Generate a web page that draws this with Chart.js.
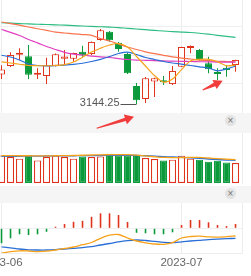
<!DOCTYPE html>
<html>
<head>
<meta charset="utf-8">
<script src="https://cdn.jsdelivr.net/npm/chart.js@4/dist/chart.umd.min.js"></script>
<style>
    html, body { margin: 0; padding: 0; background: #fff; }
    #wrap { position: relative; width: 251px; height: 276px; overflow: hidden; font-family: "Liberation Sans", Arial, sans-serif; }
    #wrap canvas { position: absolute; left: 0; }
    .band { position: absolute; left: 0; width: 251px; background: #f5f5f5; }
    .close { position: absolute; left: 225px; width: 11px; height: 11px; border-radius: 50%; background: #e3e3e3; color: #777; font-size: 10px; line-height: 11px; text-align: center; }
    #marks { position: absolute; left: 0; top: 0; }
</style>
</head>
<body>
<div id="wrap">
    <canvas id="klineChart" width="251" height="113" style="top:0"></canvas>
    <div class="band" style="top:113px;height:20px"><div class="close" style="top:2px">×</div></div>
    <canvas id="volumeChart" width="251" height="53" style="top:133px"></canvas>
    <div class="band" style="top:186px;height:17px"><div class="close" style="top:2px">×</div></div>
    <canvas id="macdChart" width="251" height="73" style="top:203px"></canvas>
    <svg id="marks" width="251" height="276"></svg>
</div>
<script>

// =====================
// DATA
// =====================

const dates = [
    "2023-06-01", "2023-06-02", "2023-06-05", "2023-06-06", "2023-06-07", "2023-06-08", "2023-06-09",
    "2023-06-12", "2023-06-13", "2023-06-14", "2023-06-15", "2023-06-16", "2023-06-19", "2023-06-20",
    "2023-06-21", "2023-06-26", "2023-06-27", "2023-06-28", "2023-06-29", "2023-06-30",
    "2023-07-03", "2023-07-04", "2023-07-05", "2023-07-06", "2023-07-07", "2023-07-10", "2023-07-11"
];

const opens  = [3196.0, 3210.7, 3230.5, 3228.0, 3195.5, 3193.0, 3211.0, 3223.5, 3223.5, 3235.8, 3231.7, 3256.3, 3271.0, 3251.6, 3232.0, 3175.6, 3152.8, 3183.5, 3183.6, 3179.0, 3209.5, 3242.5, 3238.7, 3215.4, 3197.6, 3207.5, 3212.5];
const highs  = [3212.0, 3235.0, 3242.0, 3247.5, 3207.0, 3225.0, 3232.5, 3238.7, 3234.0, 3246.3, 3253.5, 3275.5, 3272.0, 3253.0, 3234.0, 3180.9, 3191.4, 3190.0, 3193.0, 3210.7, 3244.5, 3246.5, 3240.5, 3227.0, 3206.6, 3212.5, 3221.8];
const lows   = [3188.0, 3209.0, 3221.0, 3188.0, 3188.0, 3179.0, 3210.0, 3212.5, 3218.0, 3227.0, 3230.0, 3255.0, 3253.3, 3235.8, 3196.7, 3144.25, 3145.8, 3156.3, 3177.4, 3177.4, 3209.0, 3233.0, 3220.0, 3198.0, 3186.0, 3192.0, 3200.7];
const closes = [3204.6, 3230.1, 3232.4, 3195.3, 3197.8, 3212.0, 3231.4, 3227.5, 3233.7, 3229.0, 3253.0, 3273.3, 3255.8, 3240.4, 3197.9, 3150.6, 3189.4, 3189.4, 3182.4, 3202.1, 3244.0, 3245.4, 3223.0, 3205.2, 3196.6, 3203.7, 3221.4];

const ma5  = [3218.1, 3216.0, 3213.8, 3211.6, 3211.2, 3211.2, 3211.6, 3213.0, 3217.7, 3226.0, 3235.2, 3241.9, 3247.5, 3250.1, 3244.0, 3227.4, 3210.7, 3194.0, 3182.6, 3187.9, 3204.5, 3219.5, 3222.4, 3222.4, 3218.2, 3211.0, 3212.4];
const ma10 = [3229.6, 3226.5, 3221.2, 3214.2, 3211.6, 3211.0, 3211.4, 3212.4, 3213.7, 3215.6, 3218.6, 3222.4, 3227.4, 3232.6, 3235.2, 3230.9, 3225.6, 3222.1, 3218.6, 3216.0, 3213.9, 3211.6, 3209.3, 3207.2, 3202.3, 3205.4, 3210.7];
const ma20 = [3274.7, 3269.8, 3264.2, 3257.2, 3251.4, 3244.9, 3239.6, 3234.7, 3231.7, 3230.0, 3228.2, 3226.8, 3225.6, 3223.8, 3222.1, 3221.2, 3220.7, 3220.2, 3219.6, 3219.3, 3218.9, 3218.6, 3218.2, 3218.1, 3217.7, 3217.7, 3217.7];
const ma30 = [3287.9, 3285.2, 3282.3, 3279.1, 3276.1, 3273.3, 3270.3, 3268.6, 3267.2, 3265.9, 3264.5, 3258.9, 3254.5, 3249.3, 3244.0, 3239.6, 3235.6, 3232.3, 3229.5, 3226.8, 3224.7, 3223.0, 3221.2, 3220.0, 3219.1, 3218.6, 3218.2];
const ma60 = [3286.6, 3285.9, 3285.2, 3284.5, 3284.0, 3283.5, 3283.0, 3282.3, 3281.6, 3280.9, 3280.1, 3279.6, 3278.9, 3278.2, 3276.8, 3275.6, 3274.4, 3273.1, 3272.1, 3271.0, 3270.3, 3269.5, 3268.2, 3266.5, 3264.5, 3262.8, 3261.0];

const priceTicks = [3180, 3230, 3280];

// volume, 亿
const volumes = [3.31, 3.12, 2.92, 3.28, 2.71, 3.12, 3.28, 3.12, 2.92, 3.19, 3.12, 3.19, 3.52, 3.31, 3.31, 3.40, 3.00, 2.88, 2.71, 2.80, 3.28, 2.92, 2.80, 2.56, 2.68, 2.47, 2.40];
const volMa5  = [3.28, 3.28, 3.27, 3.27, 3.26, 3.26, 3.27, 3.28, 3.30, 3.33, 3.36, 3.38, 3.40, 3.40, 3.40, 3.35, 3.25, 3.15, 3.07, 3.05, 3.05, 3.07, 3.07, 3.00, 2.92, 2.85, 2.80];
const volMa10 = [3.19, 3.20, 3.21, 3.22, 3.23, 3.24, 3.25, 3.26, 3.27, 3.28, 3.29, 3.30, 3.31, 3.31, 3.31, 3.30, 3.27, 3.22, 3.17, 3.12, 3.07, 3.01, 2.95, 2.88, 2.82, 2.76, 2.71];

// MACD
const dif = [-9.96, -9.36, -9.0, -9.08, -9.32, -9.16, -8.68, -8.08, -7.48, -6.56, -5.68, -4.0, -2.76, -2.48, -3.88, -5.08, -5.8, -6.28, -6.4, -5.76, -3.88, -3.28, -3.16, -3.4, -3.56, -3.36, -3.08];
const dea = [-7.4, -7.8, -8.28, -8.6, -8.68, -8.68, -8.52, -8.28, -8.0, -7.72, -7.36, -6.68, -6.08, -5.4, -4.92, -4.68, -4.88, -5.24, -5.6, -5.76, -5.4, -5.08, -4.8, -4.52, -4.32, -4.16, -4.0];
const macdHist = [-6.0, -4.0, -2.4, -2.7, -2.4, -1.4, 0.65, 1.7, 2.6, 3.0, 4.6, 6.0, 6.0, 5.3, 2.5, -1.8, -2.0, -2.4, -2.4, -1.6, 1.3, 3.3, 3.3, 2.4, 1.3, 0.9, 1.7];


// =====================
// COMMON
// =====================

const UP = '#e0311a';
const DOWN = '#0b9a3b';
const ORANGE = '#f7a21b';
const BLUE = '#2a6fd6';
const FONT = '"Liberation Sans", Arial, sans-serif';

const isUp = closes.map((c, i) => c >= opens[i]);
const candleColor = isUp.map(u => u ? UP : DOWN);
const hollowFill = isUp.map(u => u ? '#ffffff' : DOWN);

const monthStarts = dates
    .map((d, i) => (i === 0 || d.slice(0, 7) !== dates[i - 1].slice(0, 7)) ? i : -1)
    .filter(i => i >= 0);

function xy(values) {
    return values.map((v, i) => ({ x: i, y: v }));
}

function xAxis(showBorder) {
    return {
        type: 'linear',
        offset: false,
        min: -0.17,
        max: dates.length - 0.28,
        afterBuildTicks: s => { s.ticks = monthStarts.map(i => ({ value: i })); },
        ticks: { display: false },
        grid: { color: '#ededed', drawTicks: false, offset: false },
        border: { display: showBorder, color: '#ededed' }
    };
}

function yAxis(min, max, ticks) {
    return {
        position: 'right',
        min: min,
        max: max,
        afterBuildTicks: s => { s.ticks = ticks.map(v => ({ value: v })); },
        ticks: { display: false },
        grid: { color: '#efefef', drawTicks: false },
        border: { display: true, color: '#ededed' }
    };
}

function line(values, color, width, order) {
    return {
        type: 'line',
        data: xy(values),
        borderColor: color,
        borderWidth: width,
        pointRadius: 0,
        tension: 0.3,
        order: order
    };
}

function baseOptions(padding) {
    return {
        responsive: false,
        maintainAspectRatio: false,
        animation: false,
        devicePixelRatio: 1,
        layout: { padding: padding, autoPadding: false },
        plugins: { legend: { display: false }, tooltip: { enabled: false } },
        events: []
    };
}


// =====================
// PLUGINS
// =====================

const lowLabel = {
    id: 'lowLabel',
    afterDatasetsDraw(chart) {
        const low = Math.min(...lows);
        const i = lows.indexOf(low);
        const x = chart.scales.x.getPixelForValue(i);
        const y = chart.scales.y.getPixelForValue(low);
        const ctx = chart.ctx;
        ctx.save();
        ctx.strokeStyle = '#555';
        ctx.lineWidth = 1;
        ctx.beginPath();
        ctx.moveTo(x - 16, Math.round(y) + 0.5);
        ctx.lineTo(x, Math.round(y) + 0.5);
        ctx.stroke();
        ctx.fillStyle = '#555';
        ctx.font = '11px ' + FONT;
        ctx.textAlign = 'right';
        ctx.textBaseline = 'middle';
        ctx.fillText(low.toFixed(2), x - 17, y - 0.5);
        ctx.restore();
    }
};

const dateLabels = {
    id: 'dateLabels',
    afterDraw(chart) {
        const ctx = chart.ctx;
        const xs = chart.scales.x;
        ctx.save();
        ctx.fillStyle = '#666';
        ctx.font = '11.5px ' + FONT;
        ctx.textAlign = 'center';
        ctx.textBaseline = 'middle';
        monthStarts.forEach(i => {
            ctx.fillText(dates[i].slice(0, 7), xs.getPixelForValue(i), chart.chartArea.bottom + 10);
        });
        ctx.restore();
    }
};


// =====================
// K LINE
// =====================

new Chart(document.getElementById('klineChart'), {
    type: 'bar',
    data: {
        datasets: [
            {
                data: highs.map((h, i) => ({ x: i, y: [lows[i], h] })),
                backgroundColor: candleColor,
                barThickness: 1,
                grouped: false,
                inflateAmount: 0,
                order: 10
            },
            {
                data: opens.map((o, i) => ({ x: i, y: [o, closes[i]] })),
                backgroundColor: hollowFill,
                borderColor: candleColor,
                borderWidth: 1,
                borderSkipped: false,
                barThickness: 7,
                minBarLength: 2,
                grouped: false,
                inflateAmount: 0,
                order: 9
            },
            line(ma60, '#2dbd84', 1.2, 5),
            line(ma30, '#f9734f', 1.2, 4),
            line(ma20, '#e03fc0', 1.2, 3),
            line(ma10, BLUE, 1.2, 2),
            line(ma5, ORANGE, 1.2, 1)
        ]
    },
    options: Object.assign(baseOptions({ right: 9 }), {
        scales: {
            x: xAxis(false),
            y: yAxis(3128.3, 3326.5, priceTicks)
        }
    }),
    plugins: [lowLabel]
});


// =====================
// VOLUME
// =====================

new Chart(document.getElementById('volumeChart'), {
    type: 'bar',
    data: {
        datasets: [
            {
                data: xy(volumes),
                backgroundColor: hollowFill,
                borderColor: candleColor,
                borderWidth: 1.2,
                borderSkipped: false,
                barThickness: 7,
                grouped: false,
                inflateAmount: 0,
                order: 5
            },
            line(volMa10, BLUE, 1.3, 2),
            line(volMa5, ORANGE, 1.3, 1)
        ]
    },
    options: Object.assign(baseOptions({ right: 9, bottom: 3 }), {
        scales: {
            x: xAxis(false),
            y: yAxis(0, 6, [])
        }
    })
});


// =====================
// MACD
// =====================

new Chart(document.getElementById('macdChart'), {
    type: 'bar',
    data: {
        datasets: [
            {
                data: xy(macdHist),
                backgroundColor: macdHist.map(v => v >= 0 ? UP : DOWN),
                barThickness: 1.6,
                grouped: false,
                inflateAmount: 0,
                order: 5
            },
            line(dea, BLUE, 1.3, 2),
            line(dif, ORANGE, 1.3, 1)
        ]
    },
    options: Object.assign(baseOptions({ right: 9, bottom: 23 }), {
        scales: {
            x: xAxis(true),
            y: yAxis(-9.88, 10.12, [0])
        }
    }),
    plugins: [dateLabels]
});


// =====================
// ANNOTATION ARROWS
// =====================

const arrows = [
    [96.7, 128.3, 134, 116.7],
    [202.7, 90, 222.7, 80.7]
];

(function drawArrows() {
    const svg = document.getElementById('marks');
    arrows.forEach(([x1, y1, x2, y2]) => {
        const len = Math.hypot(x2 - x1, y2 - y1);
        const ux = (x2 - x1) / len, uy = (y2 - y1) / len;
        const nx = -uy, ny = ux;
        const head = 9, hw = 5, tail = 0.5, neck = 1.8;
        const bx = x2 - head * ux, by = y2 - head * uy;
        const pts = [
            [x1 + tail * nx, y1 + tail * ny],
            [bx + neck * nx, by + neck * ny],
            [bx + hw * nx, by + hw * ny],
            [x2, y2],
            [bx - hw * nx, by - hw * ny],
            [bx - neck * nx, by - neck * ny],
            [x1 - tail * nx, y1 - tail * ny]
        ];
        const poly = document.createElementNS('http://www.w3.org/2000/svg', 'polygon');
        poly.setAttribute('points', pts.map(p => p[0].toFixed(2) + ',' + p[1].toFixed(2)).join(' '));
        poly.setAttribute('fill', '#f23b3b');
        svg.appendChild(poly);
    });
})();

</script>
</body>
</html>
